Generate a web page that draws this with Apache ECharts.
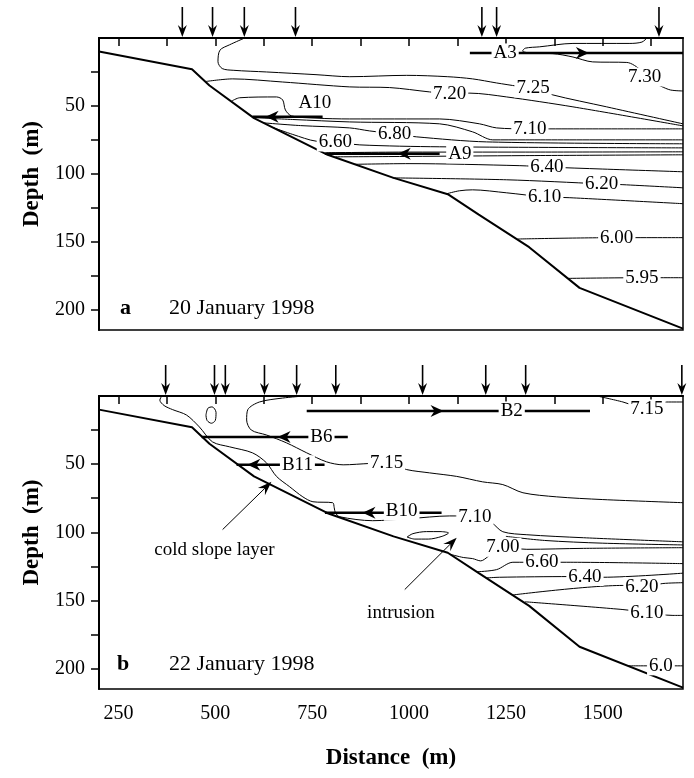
<!DOCTYPE html>
<html>
<head>
<meta charset="utf-8">
<script src="https://cdn.jsdelivr.net/npm/echarts@6/dist/echarts.min.js"></script>
<style>
html, body { margin: 0; padding: 0; background: #fff; }
#main { width: 694px; height: 778px; }
</style>
</head>
<body>
<div id="main"></div>
<script>
var FONT = '"Liberation Serif", "Times New Roman", serif';

// axes
var xMin = 200, xMax = 1707, depthMax = 215;
var xTicks = [250, 375, 500, 625, 750, 875, 1000, 1125, 1250, 1375, 1500, 1625];
var xLabels = [250, 500, 750, 1000, 1250, 1500];
var depthTicks = [25, 50, 75, 100, 125, 150, 175, 200];
var depthLabels = [50, 100, 150, 200];

// bottom profile, same for both sections (distance m, depth m)
var seafloor = [[200, 10], [440, 23], [485, 35], [600, 59], [790, 86], [960, 103], [1100, 115], [1180, 130], [1310, 154], [1440, 184], [1707, 214]];

// CTD stations (distance)
var stationsA = [415, 493, 575, 707, 1188, 1226, 1645];
var stationsB = [372, 498, 526, 627, 710, 811, 1035, 1198, 1301, 1704];

// ---- section a, 20 January 1998 : isotherms
var a730 = [[1614, 0], [1601, 3], [1570, 4], [1423, 4], [1337, 6.5], [1300, 7.5], [1293, 9.6], [1317, 11.2], [1371, 11.5], [1423, 14], [1474, 17.6], [1562, 18], [1600, 24], [1625, 32], [1650, 35.5], [1675, 38.3], [1707, 39]];
var a725 = [[576, 0], [537, 5], [512, 9], [507, 17.5], [518, 22.5], [548, 23.8], [632, 25], [760, 27], [847, 28.5], [994, 27.5], [1100, 28.5], [1164, 30.1], [1226, 33.1], [1280, 35.5], [1330, 37.5], [1371, 41.9], [1510, 50.7], [1707, 63.2]];
var a720 = [[476, 32], [545, 30.1], [674, 32.4], [847, 36], [950, 36.5], [1053, 39.7], [1105, 41], [1157, 40.6], [1252, 43.4], [1423, 50.7], [1707, 64.7]];
var a710 = [[542, 46.5], [563, 44], [658, 43.4], [674, 45.6], [681, 53], [697, 57.4], [760, 59], [847, 59.6], [1079, 59.6], [1182, 63.2], [1226, 66.2], [1312, 66.9], [1707, 66.9]];
var a700 = [[596, 58.6], [700, 60], [847, 61.8], [1079, 63.2], [1164, 69.1], [1216, 75], [1300, 75], [1707, 75]];
var a680 = [[625, 62.5], [720, 64.5], [847, 66.2], [898, 68.4], [963, 70.6], [1020, 72.8], [1200, 76.5], [1707, 77.9]];
var a660 = [[650, 66], [700, 71], [761, 76], [810, 76.5], [873, 78.7], [1079, 80.1], [1707, 80.9]];
var a650 = [[785, 84.5], [1000, 84], [1300, 84], [1707, 83.8]];
var a645 = [[810, 87.5], [1000, 87.2], [1300, 86.6], [1707, 86]];
var a640 = [[860, 93], [1000, 92.5], [1286, 94], [1356, 95], [1500, 96.5], [1707, 98.5]];
var a620 = [[958, 103], [1252, 104.4], [1497, 107.4], [1552, 108], [1707, 110.3]];
var a610 = [[1097, 114.7], [1130, 112.5], [1164, 111.8], [1252, 114], [1350, 117], [1415, 117.6], [1707, 122]];
var a600 = [[1280, 148], [1536, 147], [1707, 147]];
var a595 = [[1410, 177], [1601, 176.5], [1707, 176.5]];
var contoursA = [a730, a725, a720, a710, a700, a680, a660, a650, a645, a640, a620, a610, a600, a595];
var labelsA = [[1608, 28.7, '7.30'], [1320, 36.8, '7.25'], [1105, 41.2, '7.20'], [1312, 66.9, '7.10'], [963, 70.6, '6.80'], [810, 76.5, '6.60'], [1356, 94.9, '6.40'], [1497, 107.4, '6.20'], [1350, 117, '6.10'], [1536, 147, '6.00'], [1601, 176.5, '5.95'], [1248, 11, 'A3'], [757, 48, 'A10'], [1131, 85.3, 'A9']];
// mooring tracks a: line ends, arrow heads [x, depth, dir]
var tracksA = [[[1157, 11], [1707, 11]], [[596, 58], [777, 58]], [[783, 85.3], [1079, 85.3]]];
var headsA = [[1446, 11, 1], [648, 58, -1], [989, 85.3, -1]];

// ---- section b, 22 January 1998 : isotherms
var b715top = [[1485, 0], [1552, 4.4], [1585, 7.5], [1614, 9.5], [1665, 4.4], [1707, 4.4]];
var b715 = [[730, 0], [674, 1.5], [614, 4.4], [584, 10], [581, 17.6], [593, 25], [632, 28.6], [684, 34.4], [736, 41.7], [787, 48.3], [830, 50.5], [898, 49.5], [942, 49], [994, 54], [1053, 56.4], [1123, 59], [1190, 63], [1242, 65], [1294, 71], [1381, 74], [1500, 76], [1707, 78.3]];
var bCold = [[362, 0], [357, 3], [368, 7], [390, 10], [426, 14], [459, 22.7], [493, 33.7], [537, 37.3], [596, 41.7], [632, 49], [658, 59], [692, 66.6], [726, 74], [752, 77.6], [803, 78.3], [807, 82], [810, 85.7], [821, 88.6], [906, 91.5], [1000, 90], [1105, 88], [1170, 88.6], [1213, 93], [1242, 99.6], [1304, 101.8], [1450, 104], [1707, 107]];
var b705 = [[1250, 103], [1350, 106], [1500, 108], [1707, 109.3]];
var b700 = [[1104, 116], [1140, 118.5], [1164, 119.3], [1185, 121], [1203, 118], [1220, 113.5], [1242, 111], [1304, 112.5], [1450, 111.8], [1707, 111.3]];
var b660 = [[1175, 129], [1226, 127.4], [1268, 122], [1343, 122], [1407, 122], [1707, 123]];
var b640 = [[1200, 133.5], [1234, 133], [1415, 132.5], [1454, 132.5], [1500, 133], [1707, 130]];
var b620 = [[1268, 146], [1552, 139], [1601, 140], [1655, 137.6], [1707, 137]];
var b610 = [[1299, 151], [1552, 156.7], [1614, 159], [1681, 161], [1707, 161]];
var b600 = [[1565, 198], [1650, 198], [1707, 198]];
var bEddy = [[476, 14], [481, 9], [492, 8], [502, 12], [500, 18], [490, 20], [479, 18], [476, 14]];
var bIntrusion = [[995, 103.5], [1010, 101], [1045, 99.5], [1080, 99.5], [1102, 100.5], [1085, 103], [1050, 105], [1015, 105], [995, 103.5]];
var contoursB = [b715top, b715, bCold, b705, b700, b660, b640, b620, b610, b600, bEddy, bIntrusion];
var labelsB = [[1614, 9.5, '7.15'], [942, 49, '7.15'], [1170, 88.6, '7.10'], [1242, 111, '7.00'], [1343, 122, '6.60'], [1454, 132.5, '6.40'], [1601, 140, '6.20'], [1614, 159.3, '6.10'], [1650, 198, '6.0'], [1265, 11, 'B2'], [774, 30, 'B6'], [712, 50.5, 'B11'], [981, 84.5, 'B10'], [498, 112.7, 'cold slope layer'], [979, 158.9, 'intrusion']];
var tracksB = [[[736, 11], [1467, 11]], [[465, 30], [842, 30]], [[555, 50.5], [782, 50.5]], [[783, 85.7], [1084, 85.7]]];
var headsB = [[1071, 11, 1], [679, 30, -1], [601, 50.5, -1], [898, 85.7, -1]];
var pointersB = [[519, 98, 645, 63], [989, 142, 1123, 104]];

var myChart = echarts.init(document.getElementById('main'));

function xAxisFor(idx) {
    var ax = {
        type: 'value', gridIndex: idx, min: xMin, max: xMax,
        axisLine: { show: true, lineStyle: { color: '#000', width: 2 } },
        axisTick: { show: true, inside: false, length: 8, customValues: xTicks, lineStyle: { color: '#000', width: 1.5 } },
        axisLabel: {
            show: idx === 1, customValues: xLabels, margin: 15, color: '#000', fontFamily: FONT, fontSize: 20,
            formatter: function (v) { return String(v); }
        },
        splitLine: { show: false }
    };
    if (idx === 1) {
        ax.name = 'Distance  (m)';
        ax.nameLocation = 'middle';
        ax.nameGap = 58;
        ax.nameTextStyle = { color: '#000', fontFamily: FONT, fontSize: 23, fontWeight: 'bold' };
    }
    return ax;
}

function yAxisFor(idx) {
    return {
        type: 'value', gridIndex: idx, min: 0, max: depthMax, inverse: true,
        name: 'Depth  (m)', nameLocation: 'middle', nameGap: 55, nameRotate: 90,
        nameTextStyle: { color: '#000', fontFamily: FONT, fontSize: 23, fontWeight: 'bold', padding: [0, 0, 0, 20] },
        axisLine: { show: true, lineStyle: { color: '#000', width: 2 } },
        axisTick: { show: true, inside: false, length: 8, customValues: depthTicks, lineStyle: { color: '#000', width: 1.5 } },
        axisLabel: { customValues: depthLabels, margin: 14, color: '#000', fontFamily: FONT, fontSize: 20 },
        splitLine: { show: false }
    };
}

function lineSeries(points, idx, width, smooth) {
    return {
        type: 'line', xAxisIndex: idx, yAxisIndex: idx, data: points,
        smooth: smooth, symbol: 'none', silent: true, z: 2,
        lineStyle: { color: '#000', width: width }
    };
}

function labelSeries(list, idx) {
    return {
        type: 'scatter', xAxisIndex: idx, yAxisIndex: idx, z: 8, silent: true, symbolSize: 1,
        itemStyle: { color: 'rgba(0,0,0,0)', opacity: 1 },
        data: list.map(function (d) { return { value: [d[0], d[1]], name: d[2] }; }),
        label: {
            show: true, position: 'inside', formatter: '{b}',
            color: '#000', fontFamily: FONT, fontSize: 19, opacity: 1,
            backgroundColor: '#fff', padding: [0, 2]
        }
    };
}

// station arrows above the section
function stationSeries(xs, idx) {
    return {
        type: 'custom', xAxisIndex: idx, yAxisIndex: idx, clip: false, silent: true, z: 10,
        data: xs.map(function (x) { return [x, 0]; }),
        renderItem: function (params, api) {
            var p = api.coord([api.value(0), 0]);
            var x = p[0], y = p[1] - 1;
            return {
                type: 'group', children: [
                    { type: 'line', shape: { x1: x, y1: y - 30, x2: x, y2: y - 6 }, style: { stroke: '#000', lineWidth: 1.6 } },
                    { type: 'polygon', shape: { points: [[x, y], [x + 4.5, y - 12], [x, y - 8], [x - 4.5, y - 12]] }, style: { fill: '#000' } }
                ]
            };
        }
    };
}

function headSeries(list, idx) {
    return {
        type: 'custom', xAxisIndex: idx, yAxisIndex: idx, silent: true, z: 9,
        data: list,
        renderItem: function (params, api) {
            var p = api.coord([api.value(0), api.value(1)]);
            var s = api.value(2);
            return {
                type: 'polygon',
                shape: { points: [[p[0] + 7 * s, p[1]], [p[0] - 6 * s, p[1] - 6], [p[0] - 2 * s, p[1]], [p[0] - 6 * s, p[1] + 6]] },
                style: { fill: '#000' }
            };
        }
    };
}

function pointerSeries(list, idx) {
    return {
        type: 'custom', xAxisIndex: idx, yAxisIndex: idx, silent: true, z: 9,
        data: list,
        renderItem: function (params, api) {
            var a = api.coord([api.value(0), api.value(1)]);
            var b = api.coord([api.value(2), api.value(3)]);
            var dx = b[0] - a[0], dy = b[1] - a[1], L = Math.sqrt(dx * dx + dy * dy);
            var ux = dx / L, uy = dy / L, nx = -uy, ny = ux;
            return {
                type: 'group', children: [
                    { type: 'line', shape: { x1: a[0], y1: a[1], x2: b[0] - 8 * ux, y2: b[1] - 8 * uy }, style: { stroke: '#000', lineWidth: 1 } },
                    { type: 'polygon', shape: { points: [[b[0], b[1]], [b[0] - 14 * ux + 5 * nx, b[1] - 14 * uy + 5 * ny], [b[0] - 9 * ux, b[1] - 9 * uy], [b[0] - 14 * ux - 5 * nx, b[1] - 14 * uy - 5 * ny]] }, style: { fill: '#000' } }
                ]
            };
        }
    };
}

var series = [];
[contoursA, contoursB].forEach(function (set, idx) {
    set.forEach(function (c) { series.push(lineSeries(c, idx, 1, 0.3)); });
    series.push(lineSeries(seafloor, idx, 2, false));
});
tracksA.forEach(function (t) { series.push(lineSeries(t, 0, 2.5, false)); });
tracksB.forEach(function (t) { series.push(lineSeries(t, 1, 2.5, false)); });
series.push(headSeries(headsA, 0));
series.push(headSeries(headsB, 1));
series.push(pointerSeries(pointersB, 1));
series.push(labelSeries(labelsA, 0));
series.push(labelSeries(labelsB, 1));
series.push(stationSeries(stationsA, 0));
series.push(stationSeries(stationsB, 1));

myChart.setOption({
    animation: false,
    backgroundColor: '#fff',
    grid: [
        { left: 99, top: 38, width: 584, height: 292, show: true, borderColor: '#000', borderWidth: 1.5 },
        { left: 99, top: 396, width: 584, height: 293, show: true, borderColor: '#000', borderWidth: 1.5 }
    ],
    xAxis: [xAxisFor(0), xAxisFor(1)],
    yAxis: [yAxisFor(0), yAxisFor(1)],
    graphic: [
        { type: 'text', x: 120, y: 308, style: { text: 'a', fill: '#000', font: 'bold 22px ' + FONT, verticalAlign: 'middle' } },
        { type: 'text', x: 169, y: 308, style: { text: '20 January 1998', fill: '#000', font: '22px ' + FONT, verticalAlign: 'middle' } },
        { type: 'text', x: 117, y: 664, style: { text: 'b', fill: '#000', font: 'bold 22px ' + FONT, verticalAlign: 'middle' } },
        { type: 'text', x: 169, y: 664, style: { text: '22 January 1998', fill: '#000', font: '22px ' + FONT, verticalAlign: 'middle' } }
    ],
    series: series
});
</script>
</body>
</html>
